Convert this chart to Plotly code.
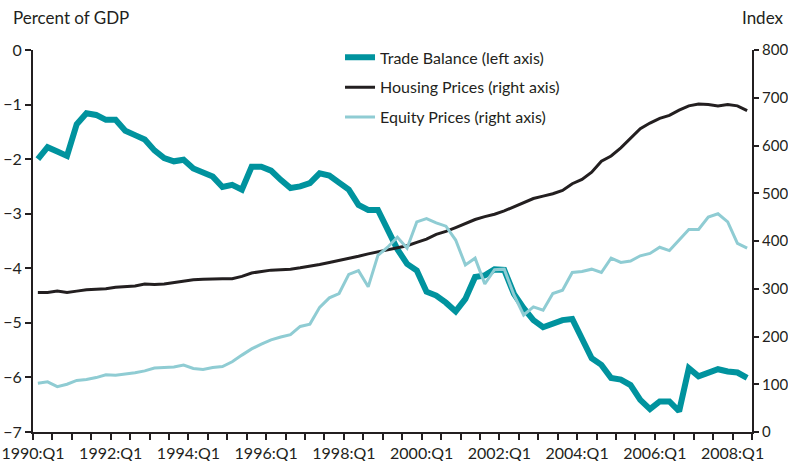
import plotly.graph_objects as go

# Quarterly data, 1990:Q1 .. 2008:Q2
start_year = 1990
n_quarters = 74

trade_balance = [
    -2.00, -1.78, -1.86, -1.94, -1.36, -1.16, -1.19, -1.28, -1.28, -1.48,
    -1.56, -1.64, -1.84, -1.98, -2.04, -2.01, -2.17, -2.25, -2.32, -2.51,
    -2.47, -2.56, -2.14, -2.14, -2.21, -2.38, -2.53, -2.50, -2.44, -2.26,
    -2.30, -2.43, -2.56, -2.84, -2.93, -2.93, -3.28, -3.65, -3.92, -4.04,
    -4.43, -4.50, -4.63, -4.79, -4.56, -4.16, -4.13, -4.02, -4.03, -4.47,
    -4.73, -4.95, -5.08, -5.00, -4.95, -4.93, -5.31, -5.65, -5.77, -6.01,
    -6.04, -6.14, -6.41, -6.58, -6.44, -6.44, -6.62, -5.83, -5.98, -5.92,
    -5.85, -5.89, -5.91, -6.01,
]

housing_prices = [
    292, 292, 295, 292, 295, 298, 299, 300, 303, 305,
    306, 310, 309, 310, 313, 316, 319, 320, 321, 321,
    321, 326, 333, 336, 339, 340, 341, 344, 347, 351,
    355, 359, 363, 368, 373, 377, 381, 386, 390, 397,
    404, 414, 420, 428, 437, 445, 451, 456, 463, 472,
    480, 489, 494, 499, 506, 520, 529, 544, 567, 578,
    595, 615, 635, 647, 657, 663, 674, 683, 687, 686,
    683, 686, 683, 673,
]

equity_prices = [
    102, 105, 95, 100, 108, 110, 114, 120, 119, 121,
    124, 128, 134, 135, 136, 140, 133, 131, 135, 137,
    147, 161, 174, 184, 193, 199, 204, 221, 226, 261,
    281, 290, 330, 338, 304, 370, 387, 408, 385, 440,
    447, 438, 431, 402, 350, 364, 310, 340, 341, 287,
    245, 262, 255, 290, 297, 334, 336, 341, 334, 364,
    355, 358, 369, 374, 387, 380, 402, 424, 424, 450,
    457, 440, 395, 385,
]

# quarter positions (plotted at mid-quarter)
x = [start_year + i / 4 + 0.125 for i in range(n_quarters)]

tick_positions = [1990 + 0.5 * k for k in range(38)]
tick_labels = [f"{int(v)}:Q1" if (v == int(v) and int(v) % 2 == 0) else "" for v in tick_positions]

left_ticks = [0, -1, -2, -3, -4, -5, -6, -7]
right_ticks = [0, 100, 200, 300, 400, 500, 600, 700, 800]

TEXT = "#231F20"
FONT = "Lato"
FS = 16

fig = go.Figure()
fig.add_trace(go.Scatter(x=x, y=trade_balance, mode="lines", name="Trade Balance (left axis)",
                         line=dict(color="#00939E", width=6), yaxis="y", legendgroup="a"))
fig.add_trace(go.Scatter(x=x, y=housing_prices, mode="lines", name="Housing Prices (right axis)",
                         line=dict(color="#231F20", width=3), yaxis="y2", legendgroup="b"))
fig.add_trace(go.Scatter(x=x, y=equity_prices, mode="lines", name="Equity Prices (right axis)",
                         line=dict(color="#8FCCD3", width=3), yaxis="y2", legendgroup="c"))

axis_common = dict(showgrid=False, zeroline=False, showline=True, linecolor=TEXT, linewidth=2,
                   ticks="outside", ticklen=6, tickwidth=2, tickcolor=TEXT, automargin=False,
                   tickfont=dict(size=FS, color=TEXT, family=FONT))

fig.update_layout(
    width=788, height=461,
    margin=dict(l=33, r=36, t=50, b=29, autoexpand=False),
    paper_bgcolor="white", plot_bgcolor="white",
    font=dict(family=FONT, size=FS, color=TEXT),
    showlegend=True,
    legend=dict(x=0.427, y=1.025, xanchor="left", yanchor="top", bgcolor="rgba(0,0,0,0)",
                tracegroupgap=6, font=dict(size=FS, color=TEXT, family=FONT)),
    xaxis=dict(range=[1990, 2008.5], tickmode="array", tickvals=tick_positions, ticktext=tick_labels,
               tickangle=0, **axis_common),
    yaxis=dict(range=[-7, 0], tickmode="array", tickvals=left_ticks, **axis_common),
    yaxis2=dict(range=[0, 800], tickmode="array", tickvals=right_ticks, overlaying="y", side="right",
                **{**axis_common, "tickfont": dict(size=15, color=TEXT, family=FONT), "ticklen": 5}),
    annotations=[
        dict(text="Percent of GDP", xref="paper", yref="paper", x=-0.031, y=1.084,
             xanchor="left", yanchor="middle", showarrow=False, font=dict(size=17, color=TEXT)),
        dict(text="Index", xref="paper", yref="paper", x=0.984, y=1.084,
             xanchor="left", yanchor="middle", showarrow=False, font=dict(size=17, color=TEXT)),
    ],
)

fig.write_html("out.html", config={"displayModeBar": False},
               post_script="document.body.style.margin='0';")
